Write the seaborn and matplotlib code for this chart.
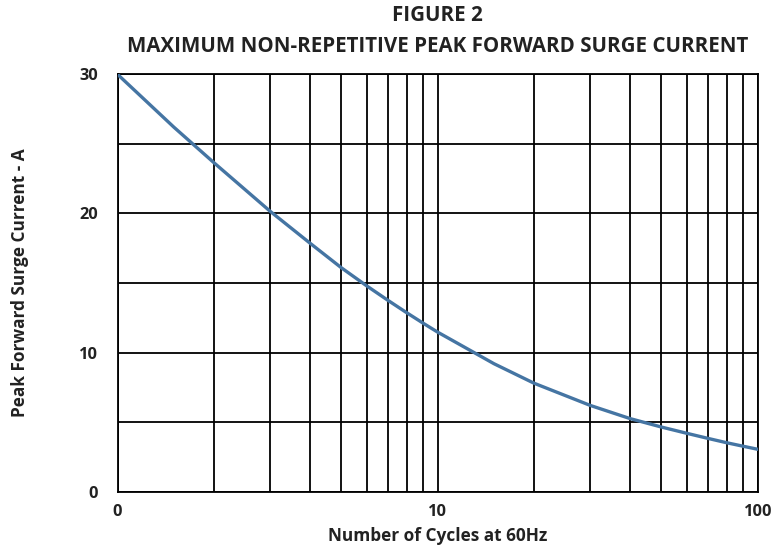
import numpy as np
import pandas as pd
import matplotlib
matplotlib.use("Agg")
import matplotlib.pyplot as plt
import matplotlib.ticker as mticker
import seaborn as sns

# surge current vs number of cycles
cycles = [1, 1.5, 2, 3, 4, 5, 6, 7, 8, 9, 10, 15, 20, 30, 40, 50, 60, 70, 80, 90, 100]
current = [30.0, 26.2, 23.65, 20.15, 17.85, 16.1, 14.8, 13.75, 12.87, 12.12, 11.47, 9.2, 7.8,
           6.2, 5.25, 4.65, 4.2, 3.83, 3.52, 3.27, 3.05]

x_ticks = [1, 10, 100]
x_ticklabels = ["0", "10", "100"]
y_ticks = [0, 10, 20, 30]
y_grid = [0, 5, 10, 15, 20, 25, 30]

df = pd.DataFrame({"cycles": cycles, "current": current})

sns.set_style("white")
plt.rcParams['font.family'] = ['Open Sans', 'DejaVu Sans']

fig = plt.figure(figsize=(7.84, 5.48), dpi=100)
ax = fig.add_axes([0.1499, 0.1027, 0.8166, 0.7617])

ax.set_xscale("log")
ax.set_xlim(1, 100)
ax.set_ylim(0, 30)

# grid: every minor log step vertically, every 5 A horizontally
ax.xaxis.set_major_locator(mticker.FixedLocator(x_ticks))
ax.xaxis.set_major_formatter(mticker.FixedFormatter(x_ticklabels))
ax.xaxis.set_minor_locator(mticker.LogLocator(base=10, subs=np.arange(2, 10)))
ax.xaxis.set_minor_formatter(mticker.NullFormatter())
ax.set_yticks(y_ticks)
ax.set_yticks(y_grid, minor=True)
ax.grid(True, which="both", axis="both", color="black", linewidth=1.3)
ax.tick_params(which="both", length=0)
ax.tick_params(axis="x", pad=9)
ax.tick_params(axis="y", pad=14)
for s in ax.spines.values():
    s.set_color("black")
    s.set_linewidth(1.3)

sns.lineplot(data=df, x="cycles", y="current", ax=ax, color="#4575a3", linewidth=2.4, zorder=5)

for lab in ax.get_xticklabels() + ax.get_yticklabels():
    lab.set_fontweight("bold")
    lab.set_fontsize(11.8)
    lab.set_color("#222222")

ax.set_xlabel("Number of Cycles at 60Hz", fontsize=12.4, fontweight="bold", color="#222222", labelpad=5)
ax.set_ylabel("Peak Forward Surge Current - A", fontsize=12.4, fontweight="bold", color="#222222", labelpad=36)

fig.text(0.558, 0.9726, "FIGURE 2", ha="center", va="center", fontsize=14.8, fontweight="bold", color="#222222")
fig.text(0.558, 0.915, "MAXIMUM NON-REPETITIVE PEAK FORWARD SURGE CURRENT", ha="center", va="center",
         fontsize=14.8, fontweight="bold", color="#222222")

fig.savefig("out.png", dpi=100)
